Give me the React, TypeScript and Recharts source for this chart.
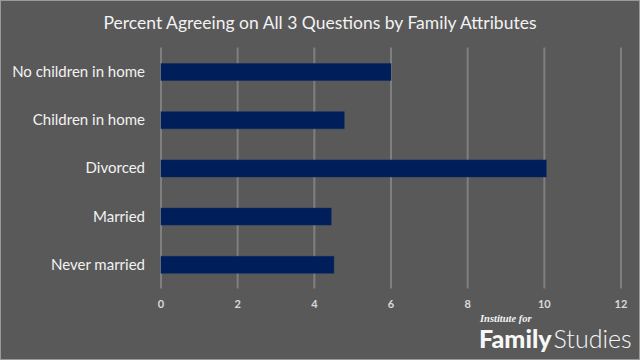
import React from 'react';
import { BarChart, Bar, XAxis, YAxis, CartesianGrid } from 'recharts';

const categories = ['No children in home', 'Children in home', 'Divorced', 'Married', 'Never married'];
const percentAgreeing = [6.0, 4.78, 10.05, 4.44, 4.51];
const xTicks = [0, 2, 4, 6, 8, 10, 12];

const data = categories.map((name, i) => ({ name, value: percentAgreeing[i] }));

const FONT = 'Lato, "Open Sans", sans-serif';

export default function App() {
  return (
    <div style={{ position: 'absolute', left: 0, top: 0, width: 640, height: 360, background: '#595959', fontFamily: FONT }}>
      <div style={{ position: 'absolute', left: 0, top: 12, width: 640, textAlign: 'center', color: '#f2f2f2', fontSize: 17.5, fontFamily: FONT }}>
        Percent Agreeing on All 3 Questions by Family Attributes
      </div>
      <div style={{ position: 'absolute', left: 0, top: 0 }}>
        <BarChart width={640} height={360} data={data} layout="vertical" margin={{ top: 47.5, right: 19, left: 0, bottom: 0 }}>
          <CartesianGrid horizontal={false} stroke="#7f7f7f" strokeWidth={2} />
          <XAxis
            type="number"
            domain={[0, 12]}
            ticks={xTicks}
            axisLine={false}
            tickLine={false}
            height={71.5}
            tickMargin={6}
            tick={{ fill: '#d9d9d9', fontSize: 11, fontFamily: FONT, fontWeight: 700 }}
          />
          <YAxis
            type="category"
            dataKey="name"
            width={161}
            axisLine={false}
            tickLine={false}
            tickMargin={10}
            tick={{ fill: '#f2f2f2', fontSize: 15, fontFamily: FONT }}
          />
          <Bar dataKey="value" fill="#001e5a" stroke="#0a2a66" strokeWidth={0.5} barSize={17} isAnimationActive={false} />
        </BarChart>
      </div>
      <div style={{ position: 'absolute', left: 480, top: 312.5, color: '#f2f2f2', fontSize: 10.5, fontStyle: 'italic', fontWeight: 700, fontFamily: '"Liberation Serif", "DejaVu Serif", serif' }}>
        Institute for
      </div>
      <div style={{ position: 'absolute', left: 479, top: 323, color: '#f7f7f7', fontSize: 25, fontFamily: FONT, lineHeight: '30px', whiteSpace: 'nowrap' }}>
        <span style={{ fontWeight: 900 }}>Family</span>
        <span style={{ fontWeight: 300, marginLeft: 2 }}>Studies</span>
      </div>
      <div style={{ position: 'absolute', left: 0, top: 0, width: 640, height: 360, boxSizing: 'border-box', border: '1px solid #9a9a9a', pointerEvents: 'none' }} />
    </div>
  );
}
